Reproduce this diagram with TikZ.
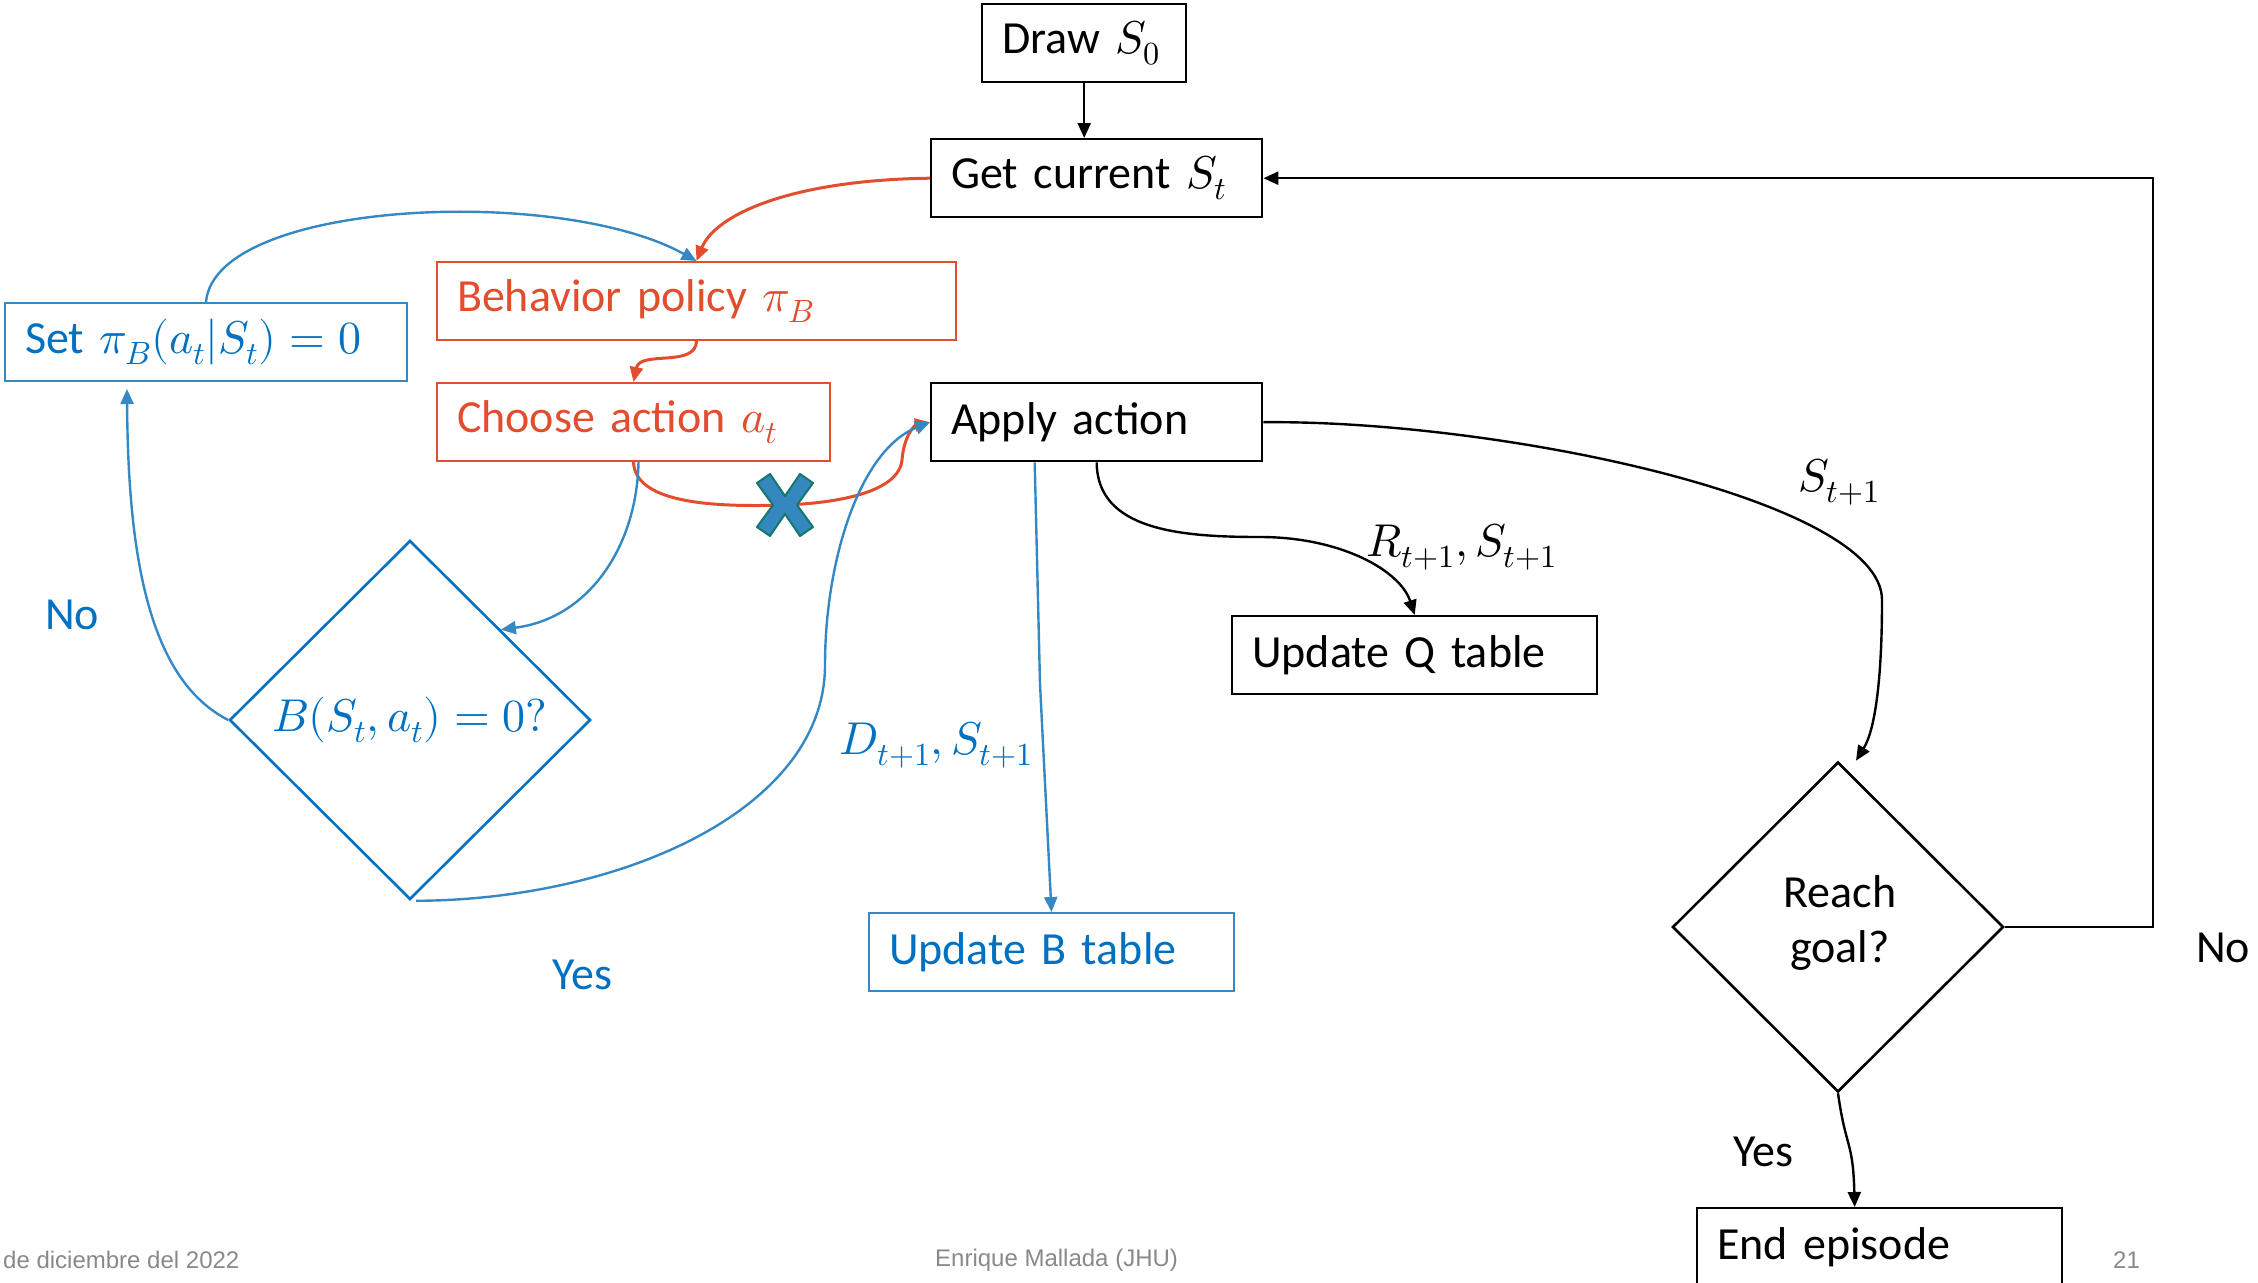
\documentclass[tikz,border=0pt]{standalone}
\usepackage{fontspec}
\usepackage{unicode-math}
\setmainfont{Carlito}
\newfontfamily\footfamily{Liberation Sans}
\usetikzlibrary{arrows.meta,shapes.geometric,calc}

\definecolor{myred}{RGB}{226,77,45}
\definecolor{myblue}{RGB}{0,112,192}
\definecolor{myblueline}{RGB}{52,136,196}
\definecolor{xfill}{RGB}{52,136,190}
\definecolor{xedge}{RGB}{20,120,110}
\definecolor{footgray}{RGB}{137,137,137}

\newcommand\boxfont{\fontsize{46}{55}\selectfont}
\newcommand\footfont{\footfamily\fontsize{24}{28}\selectfont}

\begin{document}
\begin{tikzpicture}[x=1pt,y=-1pt,
  flowbox/.style={draw, line width=2.4pt, rectangle, anchor=north west,
    inner xsep=20pt, inner ysep=0pt, align=left, font=\boxfont, minimum height=78pt},
  redbox/.style={flowbox, draw=myred, text=myred, line width=2pt},
  bluebox/.style={flowbox, draw=myblueline, text=myblue, line width=2pt},
  decision/.style={draw, diamond, line width=2.6pt, inner sep=0pt, aspect=1},
  tip/.style={-{Triangle[length=15pt,width=13pt]}},
  blackline/.style={tip, line width=2.4pt, black},
  redline/.style={tip, line width=3pt, myred},
  blueline/.style={tip, line width=2.4pt, myblueline},
  lbl/.style={font=\boxfont, inner sep=0pt},
  foot/.style={font=\footfont, text=footgray, anchor=west, inner sep=0pt}
]
\useasboundingbox (0,0) rectangle (2258,1282);

% process boxes
\node[flowbox, minimum width=204pt, text width=164pt] (draw) at (981,3) {Draw $S_0$};
\node[flowbox, minimum width=331pt, text width=291pt] (get) at (930,138) {Get current $S_t$};
\node[redbox, minimum width=519pt, text width=479pt] (behav) at (436,261) {Behavior policy $\pi_B$};
\node[bluebox, minimum width=402pt, text width=362pt] (setb) at (4,302) {Set $\pi_B(a_t|S_t)=0$};
\node[redbox, minimum width=393pt, text width=353pt] (choose) at (436,382) {Choose action $a_t$};
\node[flowbox, minimum width=331pt, text width=291pt] (apply) at (930,382) {Apply action};
\node[flowbox, minimum width=365pt, text width=325pt] (qupd) at (1231,615) {Update Q table};
\node[bluebox, minimum width=365pt, text width=325pt] (bupd) at (868,912) {Update B table};
\node[flowbox, minimum width=365pt, text width=325pt] (endep) at (1696,1207) {End episode};

% decisions
\node[decision, draw=myblue, minimum width=361pt, minimum height=359pt] (bdia) at (410,720) {};
\node[lbl, text=myblue] (btext) at (bdia.center) {$B(S_t,a_t)=0?$};
\node[decision, minimum width=331pt, minimum height=330pt] (reach) at (1838,927) {};
\node[lbl, align=center] (rtext) at (1840,923) {Reach\\goal?};

% edge labels
\node[lbl, text=myblue] (nob) at (72,615) {No};
\node[lbl, text=myblue] (yesb) at (582,975) {Yes};
\node[lbl, text=myblue] (dlab) at (936,745) {$D_{t+1},S_{t+1}$};
\node[lbl] (rlab) at (1462,547) {$R_{t+1},S_{t+1}$};
\node[lbl] (slab) at (1839,482) {$S_{t+1}$};
\node[lbl] (nok) at (2223,948) {No};
\node[lbl] (yesk) at (1763,1152) {Yes};

% footer
\node[foot] (fdate) at (3,1260) {de diciembre del 2022};
\node[foot] (fauth) at (935,1260) {Enrique Mallada (JHU)};
\node[foot] (fpage) at (2113,1260) {21};

% helper points
\coordinate (nocorner) at (2153,0);
\coordinate (noend) at (127,389);
\coordinate (dsplit) at (1040,684);
\coordinate (bdiaNE) at ($(bdia.north)!0.5!(bdia.east)$);

% black connectors
\draw[blackline] (draw.south) -- (draw.south |- get.north);
\draw[blackline] (reach.east) -- (reach.east -| nocorner) -- (nocorner |- get.east) -- (get.east);
\draw[blackline] (apply.south) .. controls (1097,530) and (1180,537) .. (1260,537)
  .. controls (1340,537) and (1400,570) .. (qupd.north);
\draw[blackline] (apply.east) .. controls (1500,420) and (1882,500) .. (1882,600)
  .. controls (1882,680) and (1875,730) .. ([xshift=18pt]reach.north);
\draw[blackline] (reach.south) .. controls (1846,1150) and (1853,1140) .. ([xshift=-25pt]endep.north);

% red connectors
\draw[redline] (get.west) .. controls (790,180) and (715,215) .. (behav.north);
\draw[redline] (behav.south) .. controls (696,368) and (640,350) .. (choose.north);
\draw[redline] (choose.south) .. controls (635,505) and (720,507) .. (785,505)
  .. controls (860,502) and (900,485) .. (902,460)
  .. controls (904,435) and (915,425) .. (apply.west);

% blue connectors
\draw[blueline] ([xshift=5pt]choose.south) .. controls (637,545) and (590,618) .. (bdiaNE);
\draw[blueline] (bdia.west) .. controls (150,680) and (128,560) .. (noend);
\draw[blueline] (setb.north) .. controls (215,200) and (560,185) .. (behav.north);
\draw[blueline] ([xshift=6pt]bdia.south) .. controls (620,900) and (825,810) .. (825,665)
  .. controls (825,560) and (860,450) .. (apply.west);
\draw[blueline] ([xshift=-62pt]apply.south) -- (dsplit) -- (bupd.north);

% blocked transition mark
\begin{scope}[shift={(785,505)}]
  \draw[fill=xfill, draw=xedge, line width=2pt, line join=round]
    (0,-9) -- (15,-31) -- (28,-22) -- (12,0) -- (28,22) -- (15,31) -- (0,9)
    -- (-15,31) -- (-28,22) -- (-12,0) -- (-28,-22) -- (-15,-31) -- cycle;
\end{scope}
\end{tikzpicture}
\end{document}
